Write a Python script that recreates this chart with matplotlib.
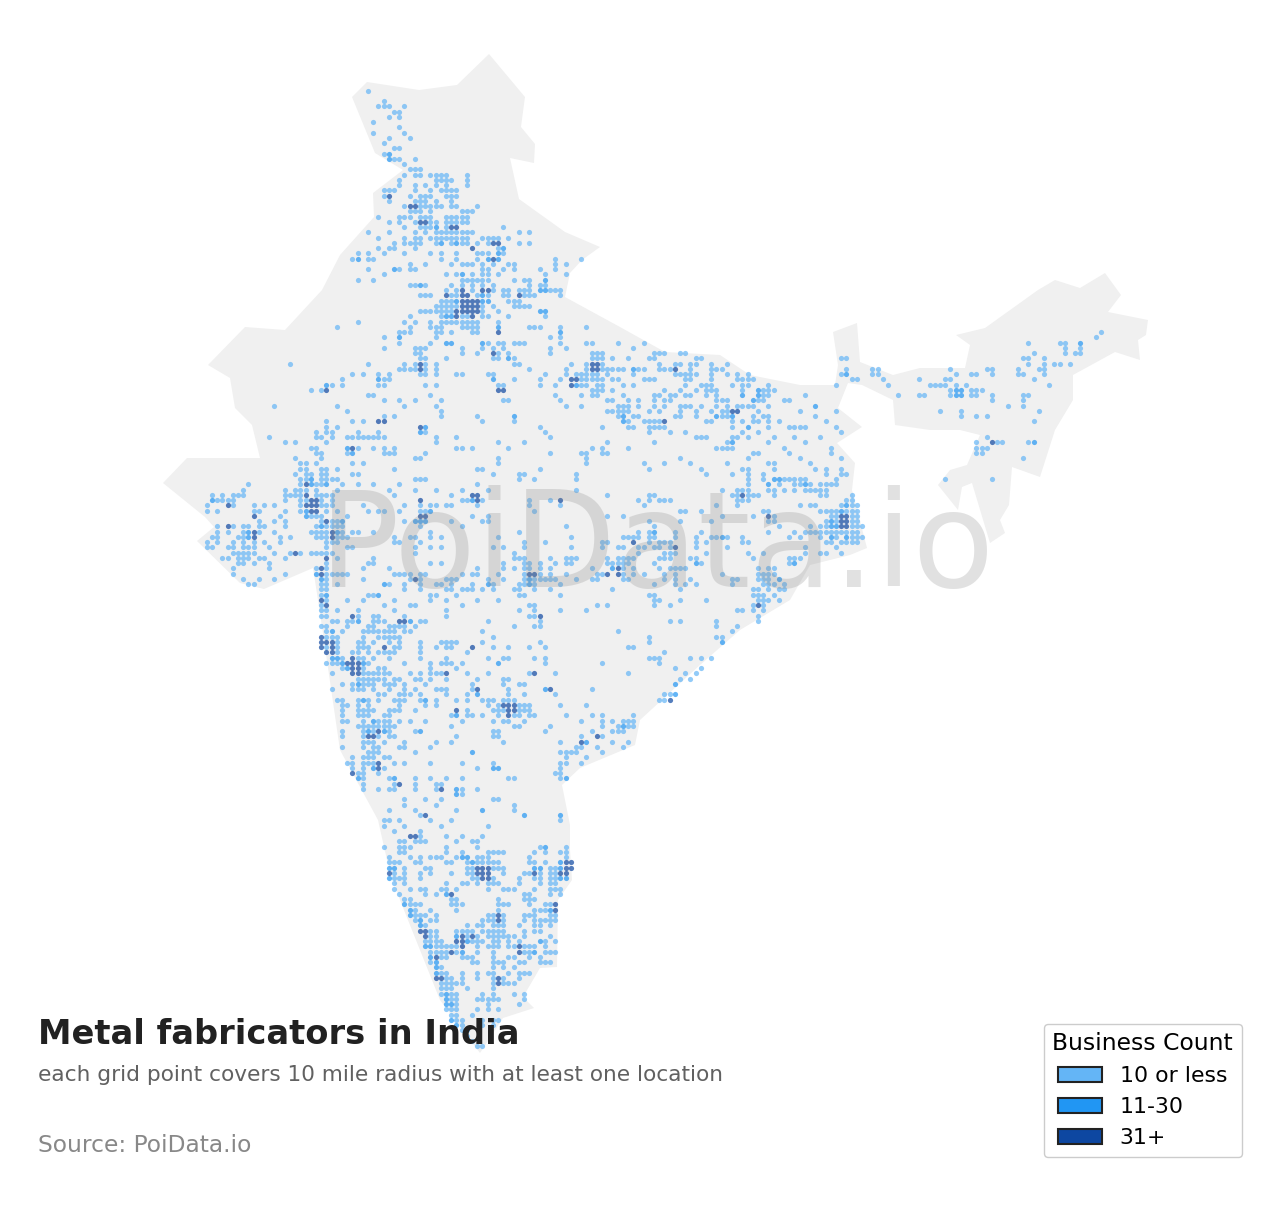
import numpy as np
import matplotlib
matplotlib.use("Agg")
import matplotlib.pyplot as plt
from matplotlib.patches import Polygon, Patch

# outline of the country, map units
border_x = [489,525,521,535,534,510,519,565,600,582,570,565,620,665,720,750,800,835,838,833,857,860,893,920,965,970,956,985,1038,1055,1080,1105,1121,1108,1148,1146,1138,1140,1115,1073,1073,1055,1040,1012,1009,1000,1005,990,972,962,958,938,950,967,980,960,930,895,893,862,848,838,862,837,855,852,867,850,810,790,740,700,640,635,580,562,570,570,572,558,557,540,523,534,503,480,440,400,387,378,340,320,313,264,240,197,214,205,163,187,260,252,235,230,208,245,285,322,340,374,373,403,375,352,367,419,457]
border_y = [54,97,127,144,163,158,199,232,247,260,273,297,327,352,355,375,385,385,365,332,323,362,375,368,368,345,335,328,290,280,288,273,295,312,320,335,340,360,352,375,400,430,477,467,505,520,533,543,483,487,510,485,470,465,435,430,430,425,400,385,383,408,427,443,463,490,548,555,565,600,630,665,720,745,768,785,825,850,880,900,967,968,997,1008,1018,1053,1000,900,860,820,750,613,568,589,583,541,527,517,483,458,458,425,408,378,365,327,330,290,255,217,193,170,153,97,82,90,85]

# grid points as "row: cols", d = 31+ and m = 11-30, plain = 10 or less
north_rows = """0: 31
2: 34
3: 33 34 35 38
4: 36 37
5: 35 37
6: 32
7: 37
8: 32 38
9: 35 39
10: 34
11: 36 37
12: 34 35m
13: 35m 36 37 40
14: 38
15: 39 40 41
16: 38 40 41 43 44 45 46 50
17: 37 44 45 46 47 50
18: 37 40 42 44 46 50
19: 34 35 36 40 43 45 46 47 48
20: 34 35d 39 41 42 43 46 47 48
21: 35 40 41 42 44 47
22: 38 39d 40d 41 42 43 44 45 47 48 52
23: 39 40 41 43 49 50 51
24: 33 37 38 39 41 42 43 46 47 48 49 50
25: 35 37 40 41d 42d 43 44 46 47 48 49 50
26: 38 41 42 43 44m 46 47d 48d 57
27: 31 35 40 42 44 45 46 47 48 49 50 51 60 62
28: 33 38 40 41 43 44 45 46 47 48 49 50 53 54 55 56 58
29: 36 38 39 40 41 44 45m 47 48m 49 50 52 54 55d 56d 60 62
30: 33 35 36 40 51d 56 57m
31: 29 31 34 38 43 45 48 52 53 54 56m 57
32: 28 29m 31 32 45 48 52 54m 55d 56m 67 72
33: 39 42 47 49 50 51 53 55 58 59 67 69
34: 31 36m 37 39 40 53 54 57 59 64 67
35: 34 46 48 49m 51 53 54 56 65 69
36: 29 32 49 50 51 52 53 54 59 61 62 65m
37: 39 40 41m 42 47 49 51 53 55 62 64 65
38: 46 48 49d 51 53d 54d 55 57 58 60 61 62 64m 65m 66 67 68
39: 41 42 43 46d 47 48 49d 50d 52 53m 54 57 58 60d 61 62 63 68
40: 45 46 47 48m 49d 50d 51d 52d 53m 54m 58 59 60
41: 44 45 46 47 48 49d 50d 51d 52d 53 55 59 60 61 62
42: 41 42 43 44 45 46 47 48d 49d 50d 51d 52d 53 56 64m 65m
43: 39 45 46m 47m 48d 49 50 51d 53 54 58 65
44: 29 38 40 43 45 46 47 48 49 50 51 52 56
45: 25 39 43 44 45 49 50 51 52 56m 62 63 64 68 73""".splitlines()

upper_mid_rows = """46: 37 38 39 44 45 47 51 52 56d 68m
47: 34 37m 44 66 68
48: 37 43 46m 47m 53m 54 56 57 59 60 61 68
49: 34 40 41 42 49 53 55 57 66
50: 40 41 49 52 55d 56 58 66
51: 41 42 46 55 56 58m 59
52: 16 31 38 40 41d 42 44 59 60
53: 37 38 39 40 41d 42 44 62
54: 28 30 33 35 41 42 44 48 49 54 55 65
55: 26 33m 34 35 55m 59 64 68
56: 23m 24 26 33 34 42 44 56 57 64 67
57: 20 22 23d 56d 57d
58: 31 32 43 67
59: 34 37 40 45 57 58 68
60: 13 25 38 44
61: 27 45
62: 34 36 45 52 59m
63: 23 28 30 33d 34d 53 59
64: 23 25 41d 42m 64
65: 21 23 24 29 33 41m 42 65
66: 12 21 22 24 27 28 29 30 31 32 33 34 44 48 66
67: 15 17 23 44 56 61
68: 20 21 27m 28d 29 32 34 36 48 49 51 58
69: 21 22 27 28m 34 35 36 42 66
70: 17 22 40 41 56
71: 18 19 21 28 30 56
72: 18 19 22 23 25 36 52 53 64
73: 17 19 20 22 23 28 29 55 60 61""".splitlines()

gangetic_rows = """48: 73 74 79 84
49: 69 82
50: 74 75 76 86 87 88 91 92
51: 74 75 76 78 81 85 86 94 95 122 123
52: 70 73 74d 75d 76 87 90 91 93 94 97 100
53: 69 73 74d 75d 76 77 78 79 80 82m 83 84 87 88 89 90d 93 97 98 99 123
54: 69 71 72 73 74 75 77 82 90 91 92 93 94 97 100 102 104 122 123m 128
55: 68 70d 71d 72 73 74 75 76 78 79 84 85 86 92 93 97 102 103 104 105 124 125
56: 70d 71m 72 73 75 76 80 82 92 95 96 97 101 103 104 108 121
57: 74 75 76 78 88 91 94 96 97 98 103 106m 107 108 109
58: 72 74 75 80 86 87 89 90 92 93 96 98 103m 106m 107 108 115
59: 68 77 78 81 83 86 88 89 98 99 100 105m 106 107 111 112
60: 69 72 79 80 81 83 86 88 91 92 93 95 98 100 102 103 104 105 108 117m
61: 77 78 79 80 81 85 87 91 94 97 99 100 101d 102d 106 114 121
62: 79 80m 82 83 90 91 94 98m 99 100 101m 105 107 108 117
63: 80m 81 84 85 86 87 88d 96 97 101 103 105 106 108 110 119
64: 76 81 82 85 86 87 88 101 104m 108 112 113 114 115 121
65: 85 89 92 103 106 122
66: 94 95 96 101 102 104 109 113 118
67: 77 86 100 101m 108 115
68: 74 76 81 98 99 100 101 111 120
69: 72 73 76 77 105 106 112 120
70: 73 91 104 114 122
71: 73 84 88 93 100 108 109 116
72: 85 95 103 104 109 117 119 122
73: 71 96 101 104 107 119 122 123
74: 71 104 107 109m 110m 111 112 113 114 115
75: 104 108m 110 113 114 115m 116 118 119 120 121
76: 71 99 102 103 104 108 109 111 113 115 116 117 118 119
77: 77 85 86 101 102 103d 104 105 106 109 118 119 124
78: 68d 83 85 87 88 89 102 103 104 123 124
79: 84 98 102 114 116 117 122 123m 124 125
80: 91 92 95 107 108 118 119 120 121 122m 123 124 125
81: 77 80 99 105 108d 109 120 121 122d 123d 124 125
82: 85 91 97 108 109 119 120m 121 122d 123d 124 125
83: 69 86 110 116 118 119 120m 121m 122d 123d 124 125 126
84: 83 85 86m 90 95 108 113 115 116 117 118 119 120 121 122 123 124 125
85: 70 80 81 82 83 85 86 90 94 97 98 99m 100 103 112 114 118 120m 121 123m 124 125 126
86: 76 77 82d 85 87 88 89 94 96 103 104 119 120 122 123 124 125
87: 70 76 79 80 83 84 86 87 89 90d 94 100 115 121
88: 83 88 89 90 96 104 107 115 118 119 122
89: 69 70 71 77 79 80 81 82 87 88 89 93 94 105 112 113 114
90: 69 70 77 78 79 80 81 86 94m 95 112 113m
91: 74 78m 79d 80 82 87 89 90 91 92 106 108 109
92: 69 75 76 77d 79d 80 82 84 88 90 99 106 107 108 109
93: 71 74 75 80 81 88 90 93 101 102 106 107 108 110m
94: 68 86 90 92 94 101 107 108 109 111
95: 78 91 105 106 108 110 111
96: 85 86 105 106 107 109""".splitlines()

east_coast_rows = """97: 86 87 91 96 106 107 108 110
98: 75 77 86 89 105 106d 107
99: 68 73 102 103 105 107
100: 106
101: 89 91 98 106
102: 98 102
103: 79 101
104: 85 98 99
105: 85 99m
106: 81 82
107: 88
108: 85 86 87 93 95 97
109: 76 87
110: 90 95
111: 81 92 94
112: 91 93
113: 90m
114: 74
115: 88 89 90m
116: 87 88 89d
117: 68 73
119: 69 74 76 82
120: 72 76 78 80 81 82
121: 76 79 80m 81 82
122: 74 78 79 80
123: 72 75d 76
124: 68 72d 73m 78 81
125: 71 72 75 80
126: 68 69 70 71 76
127: 69 73
128: 69 72
129: 68
130: 68
131: 68 69m""".splitlines()

central_rows = """73: 55 60 61
74: 60 63
75: 52
76: 49 54
77: 47 51d 52d
78: 49 50 51m 52d 53 62 66 68d
79: 46 47 52 62 68
80: 63
81: 51 54
82: 47 53 54
83: 49 69
84: 60
85: 45 56
86: 61 65
87: 45 55 57 61
88: 59
89: 59 60 61 66 69
90: 45 57 61 62 64 67 69
91: 52 57 59 61 62 64 66
92: 49 51 52 56 61 62d 63d 64 66 69
93: 46 47 48 54 57 61 62m 63 64 65 66 67
94: 45 47 51 54m 55 60 61 62m 63 68
95: 46 47 49 50 51 53 55 59 60 63 66
96: 48 60 61 68
97: 46 52 56
98: 49 62 63
99: 46 60 63 68
100: 46 62 63 64d
101: 54 64
102: 59 63 64
103: 53
104: 55
105: 45 47 48 53 64
106: 47 51d 55 58 62 65
107: 50
108: 46 54 57 58 63 65
109: 45 46 47 49 56m 65
110: 48
111: 45 46d 50 54 62 63d 67
112: 46 52 57 58
113: 51 57 60 61
114: 46 51 52d 58 65m 66d
115: 46 50 52m 58 61 67
116: 48 50 53 54 55 57 58 59
117: 54 56 57d 58d 59d 60 61 62 68
118: 48d 50 55 56 57 58d 59d 60 61 62
119: 47 48m 50 51 53 56 58d 59 60 62 63 69
120: 49 55 57 58 61
121: 47 59 60 66""".splitlines()

west_rows = """74: 18 19 20m 22 23 24 25 40 41 42
75: 8 18 19d 20m 21 22 23m 26 29 32 37
76: 7 15 17 18 19 21 25 35 40 44
77: 1 3 5 6 7 15 16 17 18 19d 21 22 23 24 36
78: 1m 2 3 4 5 15 18 19 20d 21d 22 24 41d
79: 0 4d 5 9 11 13 18 19d 20d 21d 22 23 24 30 38 41 43 44 46
80: 0 2 9 10 15 18 19m 20d 21d 23 25 31 33 34 37 41 42 43m
81: 9d 14 19m 20 21 22 27 41d 42d
82: 10 13 15 22 23d 24 25 26m 38 40m 41m 42m
83: 2 4d 5 7 8 10 11 15 21 22m 23 24 25 26 41
84: 2 4 7 8m 9d 10 13 20 21 22 23 24d 25m 26 28 29 32 43
85: 1 2 6 7 8m 9d 14 16 21 22 23 24d 25 26 27 36 39 40 43
86: 0 2 5 7 9 11 14 23 24 25 36 37 41
87: 0 1 4 5 7 8 9 12 23 27 28 40 43 45
88: 5 6 7 8 9 13 16 17d 18 20 21 22 23 24 40
89: 3 4 6 7 8 10 11 15 23d 25 32
90: 6 7 9 12 23 31 32 43 45
91: 5 12 21 22d 23 30 35
92: 5 15 21m 22d 23 24 25 26 27 36 37 38 39 41 42
93: 7 10 13 22m 23 30 39 40d 41 46
94: 8 9 22 23 25 34m 35 38 41 44 45
95: 22 23 38 41 46
96: 22 23m 31 32 33m 43 44
97: 22d 23 27 30 36 43 46
98: 22 23d 34 39 40
99: 22 23 25 29 36 46
100: 22 23 28d 29 32 33 38 46
101: 24 25 27 28 29m 32 33 34 37d 38d 39m 41 42
102: 22 23 27 31 32 35 36 37 38 40
103: 23 24m 26 30 31 32 33 34 35 36 38 39
104: 22d 23 24 25 30 33 34 35 36 37
105: 22d 23d 24d 25 29 30 32 35 37 41 45 46
106: 22d 23 24d 25 29 30 31 34d 36 37 41 44 46
107: 23d 24d 25 28 29 31 33 34 35 36 41
108: 24m 25m 26 28d 29 30 32 35 41 46
109: 23 24 25 26m 27d 28d 29d 30m 31 38 43 45 46
110: 26 27m 28d 29d 30 33 34 43
111: 24 28d 29d 30 31 32 33 34 35 39 41 43 44 45 46d
112: 29 30 31 32 33 34 36 37 40 41 43 46
113: 26 28 29m 30 31 32 34 35 36 38 42
114: 24 28 29 30 32 35 38 40 44 45
115: 33 34 37 38 39 41
116: 25 26 29 30m 31 33 36 37 38 41 42m 44
117: 26 27 29 31 37 42 44
118: 26 29 30 31 32 35 36 37 40
119: 26 29 30 31 34 35
120: 26 27 30 32m 33 34 35 37 39 42""".splitlines()

deccan_rows = """121: 29 30 31 32 33 34 35 36 47 59 60 66
122: 26 30 31m 32 33d 34m 35 40 41m 55 56 65
123: 26 30 31d 32d 33 35 36 48 55 56
124: 30 31 32 34 38 44 47 57 68
125: 26 30 32 33 37 38 43
126: 31 32 33 40 51m 68 69 70
127: 28 30 31 32 34 35 69
128: 27 28 30 31 32 33d 36 38 43 49 55 68 69
129: 28 30 32m 33d 34 52 55m 56m 68
130: 28d 29 30 33 67 68
131: 29m 30 35 36m 40 43 46 49 58 59 68 69m
132: 30 36 37d 40 44 45
133: 30 33 35 36 40 44 45d 48m 49 52
134: 48m 49
135: 38 42 45 55 56
136: 38 44 59
137: 35 40 48 53m 59
138: 41 42d 61m 68m
139: 34 35 37 43 47 68
140: 34 38 45 54
141: 36 41
142: 39d 40d 41 46 49 53""".splitlines()

south_rows = """143: 37 38 40 41 42 48 51 52
144: 34 37 38 39 46 52 64 65m 69
145: 37 38 46 49 54 55 56 57 63 65 68 69
146: 35 39 41 43 44 45 48 49m 50m 52 53 54 62 69
147: 35 36 37 40 41 46 47 50 51m 52 53 54 55 56 62 63 65 68m 69d 70d
148: 35m 36m 38 42 43 50 51 52d 53d 54d 55 56 57 63m 64m 66 67 68m 69d 70d
149: 35d 36 38 41 43 47 50 51 52d 53d 54d 57 61 62 63d 64 66 67 68d 69d
150: 35m 36 37 38 41 51 52 53d 54d 55 60 63 64 66 67 68m 69m
151: 36 38 46 49 50 52 54 55 56 60 64 66 67
152: 36 39 41 42 45 46 48 54 57 58 59 63 66 67 68
153: 37 42 44 46m 47d 61 62 66 68
154: 38 39 47 48 56 61 62 63
155: 38m 39 40 41 47 48 49 56 57 58 62 65 66 67d
156: 39m 40 43 48 56 63 64 65 66m 67d
157: 39m 40 41 42 44 54 55 56d 57 61 62 63 66 67
158: 40 41m 43 44 53 54 55 56d 57 61 63 64 65 66 67
159: 41m 42 50 52 53 55 56 57 60 63 64 66
160: 41d 42d 43 44 48 49 50 51 53 54 55 56 57 61 63 64
161: 42d 43 44 48m 49d 50 51d 52 54 55 56 57 58 59 61 66
162: 42 43 44 45 48d 49d 50m 51 52 53 55 56 58 60 64m 65 67
163: 42m 43m 44 45 46 47 48 49d 52 54 55 56 58 59 60d 61 62 63 65
164: 43 44 45 46 47d 48 49m 52 55 60d 61 62 63m 65 66 67
165: 43m 44d 45 46 49 50 51 55 58 59 62 64
166: 43 44m 51 52 55 56 57 60 61 64 65 66
167: 44m 45 55 57 59
168: 44m 45 46 49 52 54 55 58 60 61 62
169: 44d 45d 46 47 49 52 55 56d 57 60
170: 45 46 47 48 49 55 56d 57 58 59
171: 45 46 47 50 55
172: 45 46m 47 48 53 55 59 61
173: 46m 47 48 52 53 54 55 56 61
174: 46m 47m 48 54 60
175: 46 47 48 52 54 56
176: 47 48 51
177: 47m 48 49 53 55 56
178: 48m 49 53 55
179: 49 50
180: 50
181: 51
182: 52 53""".splitlines()

northeast_rows = """46: 172
47: 171
48: 158 164 165 168m
49: 165 168
50: 159 165 167 168
51: 122 123 157 158 161
52: 158 161 163 164 166
53: 123 128 129 143 150 151 156 160 161
54: 122 123m 128 129 144 147 148 151 156 157 161
55: 124 125 130 137 142 143 159
56: 121 131 139 140 141 142 144 146 162
57: 143 144m 145m 147 148 149
58: 133 137 138 143 144m 145m 147 148 151 157 158
59: 151 157
60: 154 157
61: 121 141 145 160
62: 145 148 150
63: 159
64: 121
65: 122
66: 150
67: 148 151d 152 153 158 159m
68: 148 149 150
69: 148 149
70: 157
72: 122
73: 122 123
74: 121 142 151""".splitlines()

level_names = ["10 or less", "11-30", "31+"]
level_colors = ["#64B5F6", "#2196F3", "#0D47A1"]


def parseRows(rows):
    pts = {}
    for line in rows:
        r, cols = line.split(":")
        for tok in cols.split():
            lev = 0
            if tok[-1] == "m":
                lev = 1
            elif tok[-1] == "d":
                lev = 2
            c = int(tok.rstrip("md"))
            pts[(c, int(r))] = lev
    return pts


all_pts = {}
for block in [north_rows, upper_mid_rows, gangetic_rows, east_coast_rows, central_rows,
              west_rows, deccan_rows, south_rows, northeast_rows]:
    for k, v in parseRows(block).items():
        all_pts[k] = max(v, all_pts.get(k, 0))

fig = plt.figure(figsize=(12.8, 12.05), dpi=100)
ax = fig.add_axes([0, 0, 1, 1])
ax.set_xlim(0, 1280)
ax.set_ylim(1205, 0)
ax.axis("off")

ax.add_patch(Polygon(np.column_stack((border_x, border_y)), closed=True, fc="#f0f0f0", ec="none", zorder=1))

keys = np.array(list(all_pts.keys()))
levels = np.array(list(all_pts.values()))
xs = 206.7 + 5.2 * keys[:, 0]
ys = 90.67 + 5.25 * keys[:, 1]
for lev in range(3):
    sel = levels == lev
    ax.scatter(xs[sel], ys[sel], s=14, c=level_colors[lev], alpha=0.7, linewidths=0, zorder=2 + lev)

ax.text(656.5, 550, "PoiData.io", fontsize=96.4, color="#888888", alpha=0.25, ha="center", va="center", zorder=6)

ax.text(38, 1035, "Metal fabricators in India", fontsize=24.2, fontweight="bold", color="#212121", va="center", zorder=7)
ax.text(38, 1075, "each grid point covers 10 mile radius with at least one location", fontsize=15.6, color="#616161", va="center", zorder=7)
ax.text(38, 1145, "Source: PoiData.io", fontsize=16.8, color="#888888", va="center", zorder=7)

handles = [Patch(facecolor=c, edgecolor="#222222", linewidth=1.5, label=n) for c, n in zip(level_colors, level_names)]
leg = ax.legend(handles=handles, title="Business Count", loc="lower right", bbox_to_anchor=(1242 / 1280, 1 - 1157 / 1205),
                borderaxespad=0, fontsize=15.8, title_fontsize=16.9, framealpha=1, edgecolor="#cccccc")
leg.set_zorder(8)

fig.savefig("out.png", dpi=100)
